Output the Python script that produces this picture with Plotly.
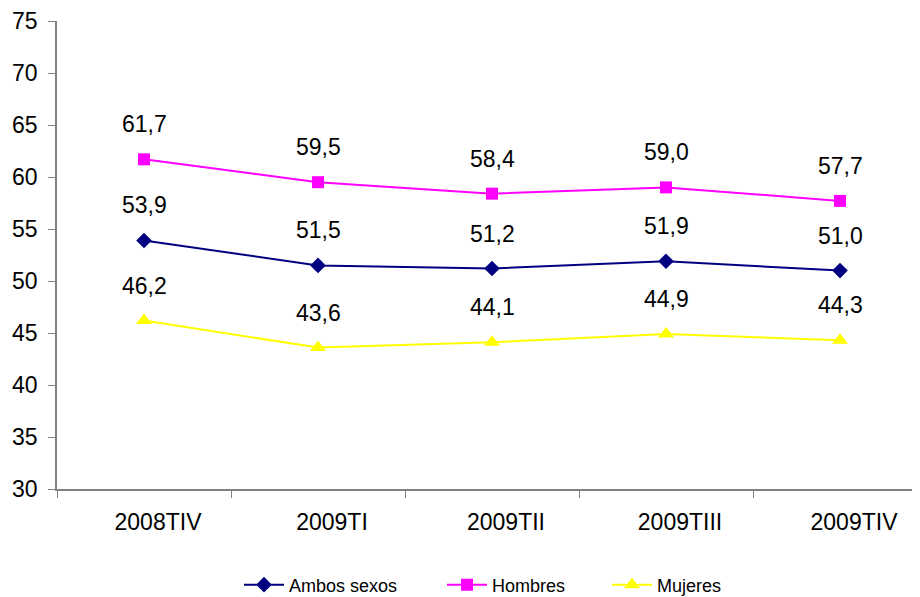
import plotly.graph_objects as go

trimestres = ["2008TIV", "2009TI", "2009TII", "2009TIII", "2009TIV"]
ambos_sexos = [53.9, 51.5, 51.2, 51.9, 51.0]
hombres = [61.7, 59.5, 58.4, 59.0, 57.7]
mujeres = [46.2, 43.6, 44.1, 44.9, 44.3]

series = [
    ("Ambos sexos", ambos_sexos, "#000080", "diamond", 12, "legend"),
    ("Hombres", hombres, "#FF00FF", "square", 12, "legend2"),
    ("Mujeres", mujeres, "#FFFF00", "triangle-up", 14, "legend3"),
]

fig = go.Figure()
annotations = []
for name, values, color, symbol, size, leg in series:
    fig.add_trace(go.Scatter(
        x=trimestres, y=values, name=name, mode="lines+markers",
        line=dict(color=color, width=2),
        marker=dict(symbol=symbol, size=size, color=color),
        legend=leg,
    ))
    # value labels above each point, with a decimal comma
    for x, v in zip(trimestres, values):
        annotations.append(dict(
            x=x, y=v, text=f"{v:.1f}".replace(".", ","), showarrow=False,
            yshift=35, font=dict(size=23, color="black"),
        ))

# one legend box per series so the spacing matches the original
leg_common = dict(orientation="h", y=-0.205, yanchor="middle", xanchor="left",
                  font=dict(size=18), bgcolor="rgba(0,0,0,0)", itemwidth=40)

fig.update_layout(
    width=920, height=597,
    margin=dict(l=49, r=1, t=13, b=116, autoexpand=False),
    paper_bgcolor="white", plot_bgcolor="white",
    font=dict(family="Liberation Sans, Arial, sans-serif", color="black"),
    annotations=annotations,
    showlegend=True,
    legend=dict(x=(231 - 49) / 870, **leg_common),
    legend2=dict(x=(434 - 49) / 870, **leg_common),
    legend3=dict(x=(599 - 49) / 870, **leg_common),
    xaxis=dict(range=[-0.5, 4.5], showline=True, linecolor="#808080", linewidth=1.5,
               ticks="outside", tickson="boundaries", ticklen=7, tickcolor="#808080",
               tickfont=dict(size=23), ticklabelstandoff=12, ticklabelshift=14,
               showgrid=False, zeroline=False),
    yaxis=dict(range=[30, 75], dtick=5, showline=True, linecolor="#808080", linewidth=1.5,
               ticks="outside", ticklen=7, tickcolor="#808080", tickfont=dict(size=23),
               ticklabelstandoff=6, showgrid=False, zeroline=False),
)

fig.write_html("out.html")
